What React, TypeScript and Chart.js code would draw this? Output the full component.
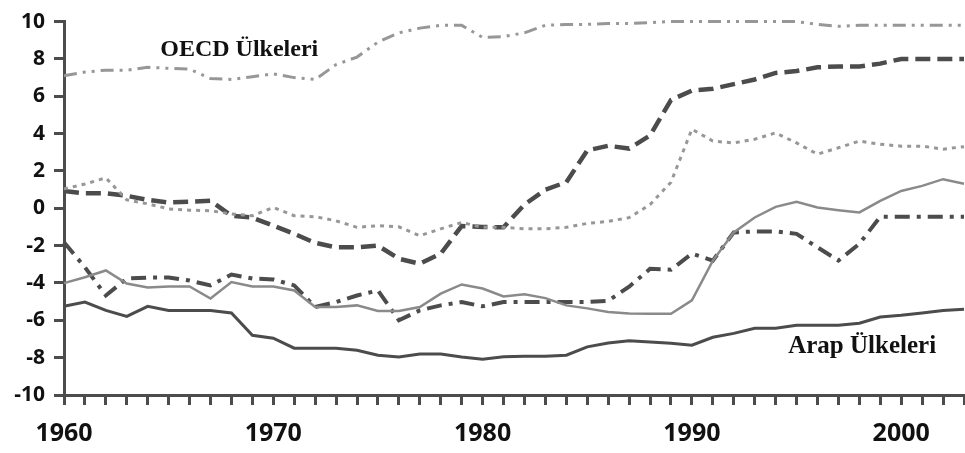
import React, { useEffect, useRef } from "react";
import { Chart, registerables } from "chart.js";

Chart.register(...registerables);

const years: number[] = [];
for (let y = 1960; y <= 2003; y++) years.push(y);

const xTickLabels = ["1960", "1970", "1980", "1990", "2000"];
const yTicks = [-10, -8, -6, -4, -2, 0, 2, 4, 6, 8, 10];

// OECD countries (dash-dot-dot, top)
const oecdTop = [
  7.1, 7.3, 7.4, 7.4, 7.55, 7.5, 7.45, 6.95, 6.9, 7.05,
  7.2, 7.0, 6.9, 7.7, 8.1, 8.9, 9.4, 9.65, 9.8, 9.8,
  9.15, 9.2, 9.4, 9.8, 9.85, 9.85, 9.9, 9.9, 9.95, 10,
  10, 10, 10, 10, 10, 10, 9.85, 9.75, 9.8, 9.8,
  9.8, 9.8, 9.8, 9.8,
];

// dashed dark
const dashedSeries = [
  0.93, 0.8, 0.8, 0.67, 0.45, 0.31, 0.35, 0.4, -0.4, -0.5,
  -0.93, -1.37, -1.85, -2.09, -2.09, -2.0, -2.7, -2.97, -2.43, -0.95,
  -1.0, -1.02, 0.2, 1.0, 1.4, 3.1, 3.35, 3.2, 3.9, 5.8,
  6.3, 6.4, 6.65, 6.9, 7.25, 7.35, 7.55, 7.6, 7.6, 7.75,
  8.0, 8.0, 8.0, 8.0,
];

// dotted light
const dottedSeries = [
  1.04, 1.3, 1.63, 0.45, 0.24, -0.03, -0.1, -0.13, -0.3, -0.4,
  0.05, -0.4, -0.45, -0.67, -1.02, -0.93, -0.99, -1.47, -1.1, -0.76,
  -1.02, -1.02, -1.1, -1.1, -1.02, -0.81, -0.7, -0.5, 0.2, 1.4,
  4.24, 3.6, 3.5, 3.7, 4.04, 3.5, 2.9, 3.24, 3.6, 3.43,
  3.33, 3.33, 3.17, 3.3,
];

// solid light
const solidLight = [
  -4.01, -3.69, -3.33, -4.03, -4.24, -4.19, -4.19, -4.83, -3.95, -4.19,
  -4.19, -4.4, -5.29, -5.29, -5.2, -5.5, -5.5, -5.29, -4.57, -4.08,
  -4.3, -4.72, -4.61, -4.81, -5.2, -5.36, -5.56, -5.63, -5.65, -5.65,
  -4.93, -2.8, -1.29, -0.49, 0.08, 0.35, 0.04, -0.1, -0.22, 0.4,
  0.93, 1.2, 1.56, 1.32,
];

// dash-dot dark
const dashDotSeries = [
  -1.82, -3.16, -4.67, -3.76, -3.71, -3.71, -3.87, -4.13, -3.55, -3.76,
  -3.81, -4.13, -5.29, -5.02, -4.67, -4.4, -6.0, -5.47, -5.2, -5.02,
  -5.25, -5.02, -5.02, -5.02, -5.02, -5.02, -4.95, -4.2, -3.24, -3.29,
  -2.43, -2.8, -1.29, -1.24, -1.24, -1.37, -2.09, -2.8, -1.9, -0.45,
  -0.45, -0.45, -0.45, -0.45,
];

// Arab countries (solid dark, bottom)
const arabBottom = [
  -5.25, -5.02, -5.47, -5.79, -5.25, -5.47, -5.47, -5.47, -5.61, -6.8,
  -6.96, -7.49, -7.49, -7.49, -7.6, -7.87, -7.97, -7.81, -7.81, -7.97,
  -8.08, -7.95, -7.92, -7.92, -7.87, -7.42, -7.21, -7.1, -7.16, -7.23,
  -7.33, -6.91, -6.7, -6.43, -6.43, -6.27, -6.27, -6.27, -6.16, -5.82,
  -5.73, -5.61, -5.47, -5.41,
];

const annotations = [
  { text: "OECD Ülkeleri", x: 1964.6, y: 8.5, size: 24 },
  { text: "Arap Ülkeleri", x: 1994.6, y: -7.4, size: 25 },
];

const DARK = "#4c4c4c";
const LIGHT = "#979797";

const toPoints = (vals: number[]) => vals.map((v, i) => ({ x: years[i], y: v }));

const labelPlugin = {
  id: "textLabels",
  afterDatasetsDraw(chart: any) {
    const { ctx, scales } = chart;
    ctx.save();
    ctx.fillStyle = "#111";
    ctx.textAlign = "left";
    ctx.textBaseline = "middle";
    for (const a of annotations) {
      ctx.font = `bold ${a.size}px 'Liberation Serif', 'DejaVu Serif', serif`;
      ctx.fillText(a.text, scales.x.getPixelForValue(a.x), scales.y.getPixelForValue(a.y));
    }
    ctx.restore();
  },
};

export default function App() {
  const ref = useRef<HTMLCanvasElement | null>(null);
  useEffect(() => {
    if (!ref.current) return;
    const mk = (data: number[], color: string, width: number, dash: number[]) => ({
      data: toPoints(data),
      borderColor: color,
      borderWidth: width,
      borderDash: dash,
      pointRadius: 0,
      tension: 0,
      fill: false,
      clip: false as any,
    });
    const chart = new Chart(ref.current, {
      type: "line",
      data: {
        datasets: [
          mk(oecdTop, LIGHT, 3, [13, 6, 3, 6, 3, 6]),
          mk(dottedSeries, LIGHT, 3, [4, 5]),
          mk(solidLight, "#8a8a8a", 2.5, []),
          mk(dashedSeries, DARK, 4.5, [15, 7]),
          mk(dashDotSeries, DARK, 4, [15, 7, 4, 7]),
          mk(arabBottom, DARK, 3, []),
        ] as any,
      },
      options: {
        animation: false,
        responsive: false,
        maintainAspectRatio: false,
        layout: { padding: { top: 20, right: 0, left: 0, bottom: 0 } },
        plugins: { legend: { display: false }, tooltip: { enabled: false } },
        scales: {
          x: {
            type: "linear",
            min: 1960,
            max: 2003,
            afterFit: (s: any) => { s.height = 58; },
            afterBuildTicks: (s: any) => {
              s.ticks = years.map((y) => ({ value: y }));
            },
            ticks: {
              autoSkip: false,
              maxRotation: 0,
              padding: 14,
              color: "#111",
              font: { family: "'Open Sans', sans-serif", size: 25, weight: "bold" },
              callback: (v: any) => {
                const s = String(v);
                return xTickLabels.includes(s) ? s : "";
              },
            },
            grid: { drawOnChartArea: false, drawTicks: true, tickLength: 10, tickWidth: 3, tickColor: DARK },
            border: { display: true, width: 3, color: DARK },
          },
          y: {
            min: -10,
            max: 10,
            afterFit: (s: any) => { s.width = 64; },
            afterBuildTicks: (s: any) => {
              s.ticks = yTicks.map((v) => ({ value: v }));
            },
            ticks: {
              padding: 9,
              color: "#111",
              font: { family: "'Open Sans', sans-serif", size: 21, weight: "bold" },
            },
            grid: { drawOnChartArea: false, drawTicks: true, tickLength: 10, tickWidth: 3, tickColor: DARK },
            border: { display: true, width: 3, color: DARK },
          },
        },
      } as any,
      plugins: [labelPlugin],
    });
    return () => chart.destroy();
  }, []);
  return (
    <div style={{ position: "absolute", left: 0, top: 0, width: 965, height: 453, overflow: "hidden", background: "#fff" }}>
      <canvas ref={ref} width={978} height={453} style={{ width: 978, height: 453, display: "block" }} />
    </div>
  );
}
